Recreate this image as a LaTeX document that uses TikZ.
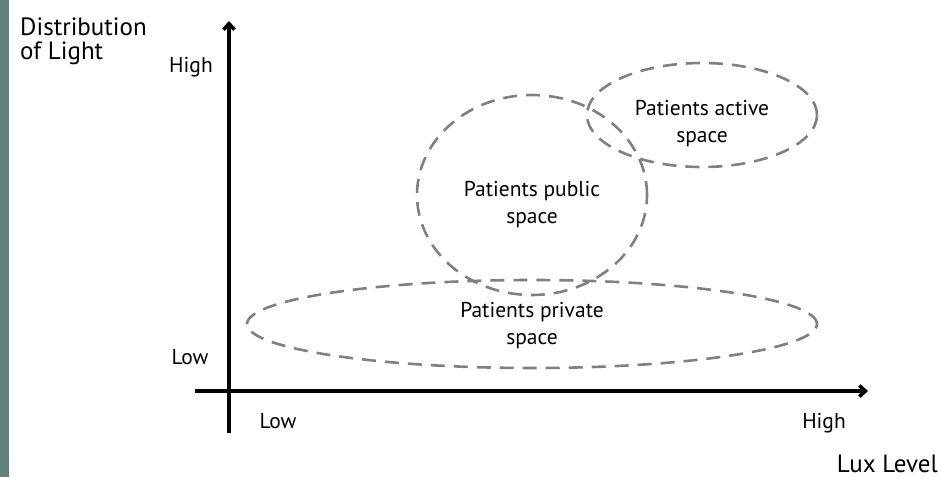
\documentclass[tikz,border=0pt]{standalone}
\usepackage{fontspec}
\setmainfont{PT Sans}
\usetikzlibrary{shapes.geometric,arrows.meta,positioning}
\definecolor{sidebar}{RGB}{100,128,122}
\definecolor{zonegray}{RGB}{128,128,128}

\begin{document}
\begin{tikzpicture}[x=1pt, y=-1pt,
    axis/.style={line width=3.6pt, -{Straight Barb[length=6pt,width=11pt]}},
    zone/.style={draw=zonegray, ellipse, line width=2.6pt, dash pattern=on 14pt off 9pt, inner sep=0pt},
    zonetext/.style={align=center, font=\fontsize{21.5}{27}\selectfont, inner sep=0pt},
    lbl/.style={font=\fontsize{21.5}{27}\selectfont, inner sep=0pt, anchor=base},
    title/.style={font=\fontsize{25}{24}\selectfont, inner sep=0pt, align=left}]
    \useasboundingbox (0,0) rectangle (952,477);
    \fill[sidebar] (0,0) rectangle (9,477);

    % axes
    \coordinate (ybot) at (229,433);
    \coordinate (ytop) at (229,21);
    \coordinate (xleft) at (195,391);
    \coordinate (xright) at (868,391);
    \draw[axis] (ybot) -- (ytop);
    \draw[axis] (xleft) -- (xright);

    % axis labels
    \node[title, anchor=north west] (ytitle) at (20,18) {Distribution\\of Light};
    \node[title, anchor=base east] (xtitle) at (938,472) {Lux Level};
    \node[lbl] (yhigh) at (191,72) {High};
    \node[lbl] (ylow) at (190,364) {Low};
    \node[lbl] (xlow) at (278,428) {Low};
    \node[lbl] (xhigh) at (824,428) {High};

    % spaces
    \node[zone, minimum width=570, minimum height=88] (private) at (532,324) {};
    \node[zone, minimum width=230, minimum height=200] (public) at (532,195) {};
    \node[zone, minimum width=230, minimum height=104] (active) at (702,115) {};
    \node[zonetext] (privatetext) at ([yshift=-2pt]private.center) {Patients private\\space};
    \node[zonetext] (publictext) at ([yshift=-10pt]public.center) {Patients public\\space};
    \node[zonetext] (activetext) at ([yshift=-9pt]active.center) {Patients active\\space};
\end{tikzpicture}
\end{document}
